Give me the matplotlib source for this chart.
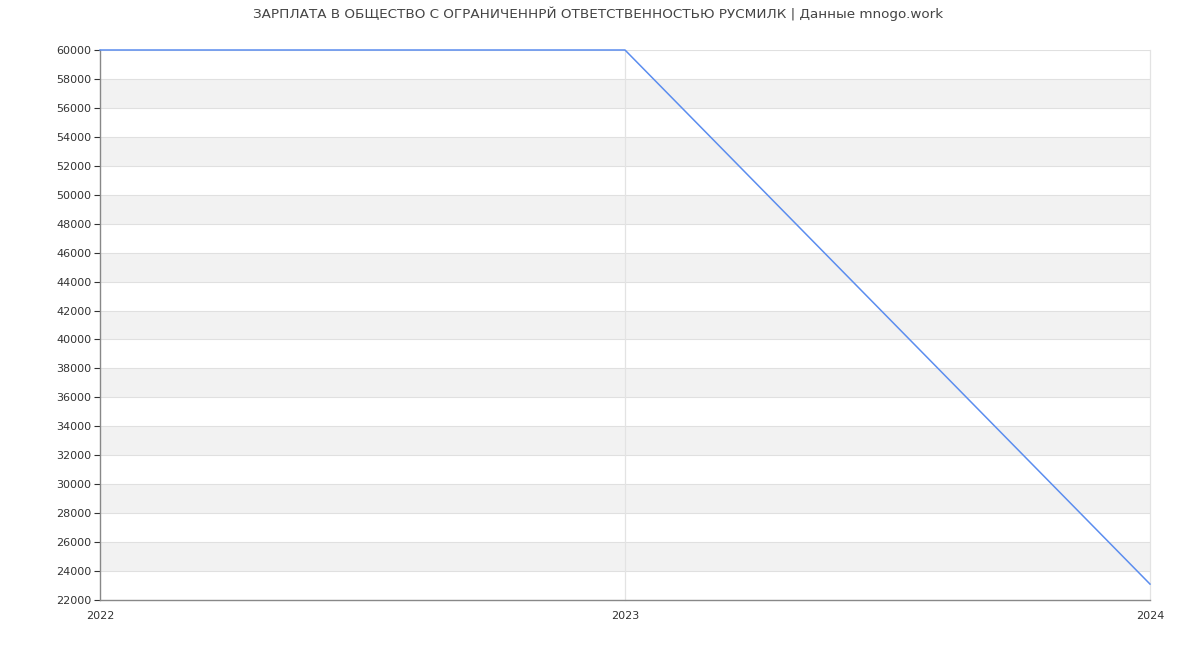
import matplotlib.pyplot as plt

years = [2022, 2023, 2024]
salary = [60000, 60000, 23100]
y_ticks = list(range(22000, 60001, 2000))
title = "ЗАРПЛАТА В ОБЩЕСТВО С ОГРАНИЧЕННРЙ ОТВЕТСТВЕННОСТЬЮ РУСМИЛК | Данные mnogo.work"

fig = plt.figure(figsize=(12, 6.5), dpi=100)
ax = fig.add_axes([100 / 1200, 50 / 650, 1050 / 1200, 550 / 650])

# alternating bands
for i, lo in enumerate(y_ticks[:-1]):
    if i % 2 == 1:
        ax.axhspan(lo, lo + 2000, color="#f2f2f2", zorder=0, lw=0)

for y in y_ticks[1:]:
    ax.axhline(y, color="#e0e0e0", lw=0.8, zorder=1)
for x in years[1:]:
    ax.axvline(x, color="#e3e3e3", lw=0.9, zorder=1, clip_on=False)

ax.plot(years, salary, color="#5b8def", lw=1.1, zorder=3, clip_on=False)

ax.set_xlim(2022, 2024)
ax.set_ylim(22000, 60000)
ax.set_yticks(y_ticks)
ax.set_xticks(years)
ax.set_xticklabels([str(y) for y in years])

for s in ["top", "right"]:
    ax.spines[s].set_visible(False)
for s in ["left", "bottom"]:
    ax.spines[s].set_color("#888888")
    ax.spines[s].set_linewidth(1)

ax.tick_params(axis="y", labelsize=8, colors="#333333", length=4, width=0.8, pad=2)
ax.tick_params(axis="x", labelsize=8, colors="#333333", length=0, pad=8)
for lbl in ax.get_xticklabels():
    lbl.set_x(lbl.get_position()[0])
for t in ax.get_yticklines():
    t.set_color("#888888")

fig.text(0.5 - 2 / 1200, 1 - 14 / 650, title, ha="center", va="center", fontsize=9.7, color="#444444")

fig.savefig("out.png", dpi=100, facecolor="white")
